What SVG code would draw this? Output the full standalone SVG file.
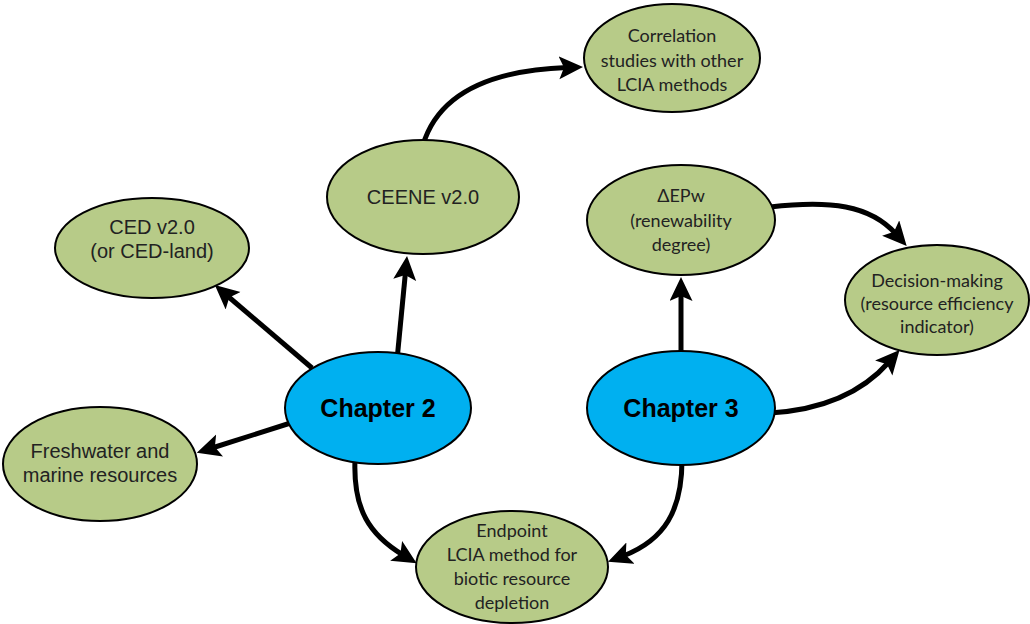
<svg xmlns="http://www.w3.org/2000/svg" width="1030" height="624" viewBox="0 0 1030 624">
<style>
.g{fill:#b7cb88;stroke:#000;stroke-width:2}
.b{fill:#00b0f0;stroke:#000;stroke-width:2}
.ta{font-family:"Liberation Sans",Arial,sans-serif;font-size:20px;fill:#222;text-anchor:middle}
.tc{font-family:Lato,"Open Sans",sans-serif;font-size:18px;fill:#222;text-anchor:middle}
.th{font-family:"Liberation Sans",Arial,sans-serif;font-size:25px;font-weight:bold;fill:#000;text-anchor:middle}
.c{fill:none;stroke:#000;stroke-width:5;marker-end:url(#ah)}
</style>
<defs>
<marker id="ah" markerUnits="userSpaceOnUse" markerWidth="26" markerHeight="24" refX="8" refY="11.5" orient="auto">
<path d="M0,0 L24,11.5 L0,23 L5,11.5 z" fill="#000"/>
</marker>
</defs>
<g id="connectors">
<path class="c" d="M312,368 L227,295.5"/>
<path class="c" d="M300,420 L212,448"/>
<path class="c" d="M397,360 L405.5,272"/>
<path class="c" d="M423,145 C440,88 500,70 567,67.5"/>
<path class="c" d="M681,360 L681,293"/>
<path class="c" d="M770,207 C830,200 870,205 896,234"/>
<path class="c" d="M770,413 C820,410 860,395 889,362"/>
<path class="c" d="M355,460 C353,510 370,535 403,555"/>
<path class="c" d="M682,460 C682,510 665,540 623,556"/>
</g>
<g id="ced">
<ellipse class="g" cx="152" cy="248" rx="97" ry="50"/>
<text class="ta" x="152" y="234">CED v2.0</text>
<text class="ta" x="152" y="258">(or CED-land)</text>
</g>
<g id="freshwater">
<ellipse class="g" cx="100" cy="464" rx="97" ry="57"/>
<text class="ta" x="100" y="458">Freshwater and</text>
<text class="ta" x="100" y="482">marine resources</text>
</g>
<g id="ceene">
<ellipse class="g" cx="423" cy="197" rx="96" ry="57"/>
<text class="ta" x="423" y="204">CEENE v2.0</text>
</g>
<g id="correlation">
<ellipse class="g" cx="672" cy="58" rx="88" ry="54"/>
<text class="tc" x="672" y="42">Correlation</text>
<text class="tc" x="672" y="67">studies with other</text>
<text class="tc" x="672" y="91">LCIA methods</text>
</g>
<g id="depw">
<ellipse class="g" cx="681" cy="220" rx="94" ry="55"/>
<text class="tc" x="681" y="202">ΔEPw</text>
<text class="tc" x="681" y="227">(renewability</text>
<text class="tc" x="681" y="251">degree)</text>
</g>
<g id="decision">
<ellipse class="g" cx="937" cy="300" rx="92" ry="55"/>
<text class="tc" x="937" y="287">Decision-making</text>
<text class="tc" x="937" y="310">(resource efficiency</text>
<text class="tc" x="937" y="333">indicator)</text>
</g>
<g id="endpoint">
<ellipse class="g" cx="512" cy="567" rx="96" ry="56"/>
<text class="tc" x="512" y="537">Endpoint</text>
<text class="tc" x="512" y="561">LCIA method for</text>
<text class="tc" x="512" y="585">biotic resource</text>
<text class="tc" x="512" y="609">depletion</text>
</g>
<g id="chapter2">
<ellipse class="b" cx="378" cy="408" rx="93" ry="56"/>
<text class="th" x="378" y="417">Chapter 2</text>
</g>
<g id="chapter3">
<ellipse class="b" cx="681" cy="408" rx="94" ry="57"/>
<text class="th" x="681" y="417">Chapter 3</text>
</g>
</svg>
